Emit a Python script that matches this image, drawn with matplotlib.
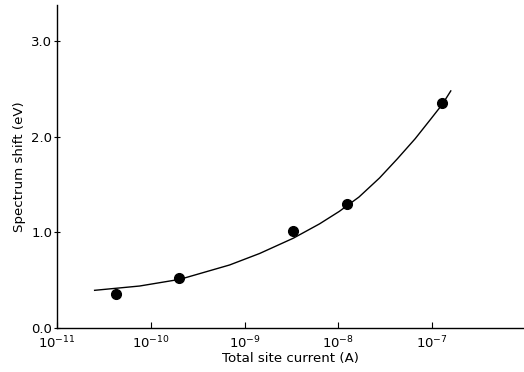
import matplotlib
matplotlib.use('Agg')
import matplotlib.pyplot as plt
import numpy as np

# measured points: total site current (A), spectrum shift (eV)
current = [4.3e-11, 2.0e-10, 3.3e-9, 1.25e-8, 1.28e-7]
shift = [0.36, 0.52, 1.02, 1.30, 2.35]

# drawn curve (log10 of current, shift)
curve_logx = [-10.60, -10.12, -9.69, -9.16, -8.84, -8.48, -8.20, -7.99,
              -7.78, -7.56, -7.37, -7.18, -7.01, -6.89, -6.80]
curve_y = [0.395, 0.44, 0.51, 0.66, 0.78, 0.94, 1.09, 1.22,
           1.37, 1.57, 1.77, 1.98, 2.19, 2.34, 2.48]

yticks = [0.0, 1.0, 2.0, 3.0]
xticks = [1e-11, 1e-10, 1e-9, 1e-8, 1e-7]

fig = plt.figure(figsize=(5.24, 3.72), dpi=100)
ax = fig.add_axes([0.109, 0.118, 0.889, 0.869])

ax.plot(10 ** np.array(curve_logx), curve_y, color='black', lw=1.0)
ax.plot(current, shift, 'o', color='black', markersize=7)

ax.set_xscale('log')
ax.set_xlim(1e-11, 10 ** -6.03)
ax.set_ylim(0, 3.38)
ax.set_xticks(xticks)
ax.set_xticklabels([r'$10^{-11}$', r'$10^{-10}$', r'$10^{-9}$', r'$10^{-8}$', r'$10^{-7}$'])
ax.xaxis.set_minor_locator(matplotlib.ticker.NullLocator())
ax.set_yticks(yticks)
ax.set_yticklabels(['%.1f' % v for v in yticks])

for s in ['top', 'right']:
    ax.spines[s].set_visible(False)
for s in ['left', 'bottom']:
    ax.spines[s].set_linewidth(1.0)

ax.tick_params(axis='x', direction='in', length=4, labelsize=9.5, pad=5)
ax.tick_params(axis='y', direction='inout', length=5, labelsize=9.5, pad=1)

ax.set_xlabel('Total site current (A)', fontsize=9.6, labelpad=0)
ax.set_ylabel('Spectrum shift (eV)', fontsize=9.6, labelpad=4)

fig.savefig('out.png', dpi=100)
